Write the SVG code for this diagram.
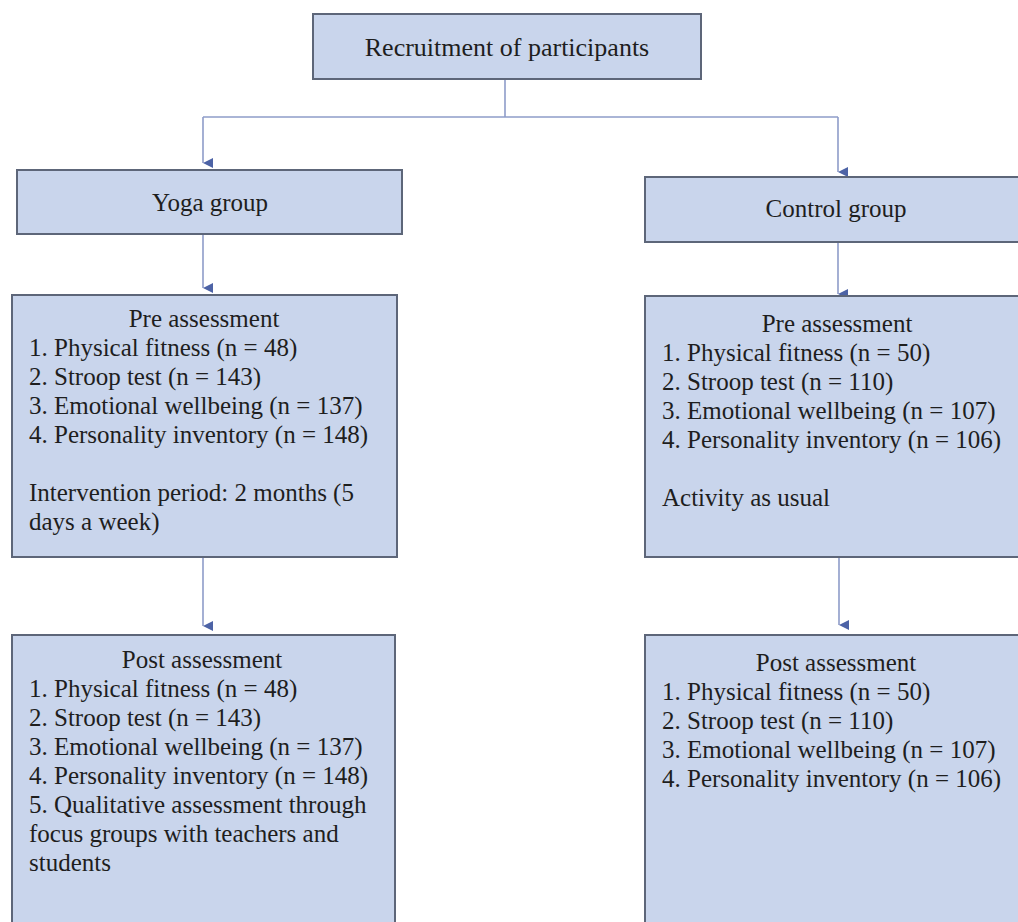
<svg xmlns="http://www.w3.org/2000/svg" width="1018" height="922" viewBox="0 0 1018 922">
<style>
.box{fill:#c9d5ec;stroke:#5d6679;stroke-width:2}
.t{font-family:"Liberation Serif","Times New Roman",serif;font-size:25px;fill:#1e1e1e}
.c{text-anchor:middle}
.ln{fill:none;stroke:#8e9cc9;stroke-width:1.6}
</style>
<defs>
<marker id="ah" viewBox="0 0 10 10" refX="5" refY="10" markerWidth="10" markerHeight="10" markerUnits="userSpaceOnUse" orient="auto-start-reverse">
<path d="M0,0 L10,0 L5,10 Z" fill="#4d63a6"/>
</marker>
</defs>
<rect width="1018" height="922" fill="#ffffff"/>
<g id="connectors">
<path class="ln" d="M505,79 V117"/>
<path class="ln" d="M203,117 H838"/>
<path class="ln" d="M203,117 V163" marker-end="url(#ah)"/>
<path class="ln" d="M838,117 V172" marker-end="url(#ah)"/>
<path class="ln" d="M203,234 V288" marker-end="url(#ah)"/>
<path class="ln" d="M838,242 V294" marker-end="url(#ah)"/>
<path class="ln" d="M203,557 V626" marker-end="url(#ah)"/>
<path class="ln" d="M839,557 V625" marker-end="url(#ah)"/>
</g>
<g id="recruitment">
<rect class="box" x="313" y="14" width="388" height="65"/>
<text class="t c" x="507" y="56" style="font-size:26px">Recruitment of participants</text>
</g>
<g id="yoga-group">
<rect class="box" x="17" y="170" width="385" height="64"/>
<text class="t c" x="210" y="211">Yoga group</text>
</g>
<g id="control-group">
<rect class="box" x="645" y="177" width="380" height="65"/>
<text class="t c" x="836" y="217">Control group</text>
</g>
<g id="yoga-pre">
<rect class="box" x="12" y="295" width="385" height="262"/>
<text class="t c" x="204" y="327">Pre assessment</text>
<text class="t" x="29" y="356">1. Physical fitness (n = 48)</text>
<text class="t" x="29" y="385">2. Stroop test (n = 143)</text>
<text class="t" x="29" y="414">3. Emotional wellbeing (n = 137)</text>
<text class="t" x="29" y="443">4. Personality inventory (n = 148)</text>
<text class="t" x="29" y="501">Intervention period: 2 months (5</text>
<text class="t" x="29" y="530">days a week)</text>
</g>
<g id="control-pre">
<rect class="box" x="645" y="296" width="380" height="261"/>
<text class="t c" x="837" y="332">Pre assessment</text>
<text class="t" x="662" y="361">1. Physical fitness (n = 50)</text>
<text class="t" x="662" y="390">2. Stroop test (n = 110)</text>
<text class="t" x="662" y="419">3. Emotional wellbeing (n = 107)</text>
<text class="t" x="662" y="448">4. Personality inventory (n = 106)</text>
<text class="t" x="662" y="506">Activity as usual</text>
</g>
<g id="yoga-post">
<rect class="box" x="12" y="635" width="383" height="295"/>
<text class="t c" x="202" y="668">Post assessment</text>
<text class="t" x="29" y="697">1. Physical fitness (n = 48)</text>
<text class="t" x="29" y="726">2. Stroop test (n = 143)</text>
<text class="t" x="29" y="755">3. Emotional wellbeing (n = 137)</text>
<text class="t" x="29" y="784">4. Personality inventory (n = 148)</text>
<text class="t" x="29" y="813">5. Qualitative assessment through</text>
<text class="t" x="29" y="842">focus groups with teachers and</text>
<text class="t" x="29" y="871">students</text>
</g>
<g id="control-post">
<rect class="box" x="645" y="635" width="380" height="295"/>
<text class="t c" x="836" y="671">Post assessment</text>
<text class="t" x="662" y="700">1. Physical fitness (n = 50)</text>
<text class="t" x="662" y="729">2. Stroop test (n = 110)</text>
<text class="t" x="662" y="758">3. Emotional wellbeing (n = 107)</text>
<text class="t" x="662" y="787">4. Personality inventory (n = 106)</text>
</g>
</svg>
